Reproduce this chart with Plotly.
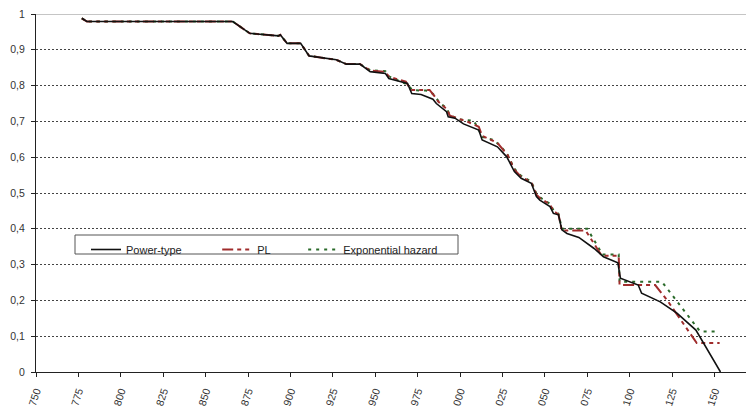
import plotly.graph_objects as go

# Power-type (black solid)
pt_x = [777, 780, 866, 876, 893, 894, 898, 906, 911, 927, 933, 941, 947, 956, 958, 969,
        971.5, 977, 984, 986, 992, 993, 997, 1002, 1011, 1013, 1022, 1027.5, 1032, 1036,
        1042, 1045, 1047, 1053, 1055, 1058, 1060, 1063, 1070, 1079, 1084.5, 1093, 1094.5,
        1105, 1107, 1118, 1128, 1139, 1153.5]
pt_y = [0.988, 0.979, 0.979, 0.946, 0.939, 0.942, 0.918, 0.918, 0.883, 0.872, 0.860, 0.860,
        0.839, 0.834, 0.820, 0.806, 0.778, 0.775, 0.762, 0.750, 0.727, 0.713, 0.709, 0.693,
        0.676, 0.648, 0.629, 0.601, 0.560, 0.541, 0.527, 0.490, 0.480, 0.462, 0.443, 0.439,
        0.397, 0.387, 0.376, 0.345, 0.322, 0.305, 0.262, 0.243, 0.220, 0.196, 0.164, 0.117, 0.0]

# PL (red dash-dot)
pl_x = [777, 780, 866, 876, 893, 894, 898, 906, 911, 927, 933, 941, 947, 956, 958, 968,
        971, 982, 985, 987, 992, 994, 1000, 1004, 1011, 1013, 1022, 1028, 1032, 1036, 1042,
        1045, 1047, 1053, 1055, 1058, 1060, 1074, 1083.5, 1093.5, 1094, 1115, 1122, 1139.5, 1153]
pl_y = [0.988, 0.979, 0.979, 0.946, 0.939, 0.942, 0.918, 0.918, 0.883, 0.872, 0.860, 0.860,
        0.842, 0.838, 0.825, 0.811, 0.788, 0.788, 0.770, 0.756, 0.735, 0.716, 0.706, 0.700,
        0.685, 0.660, 0.640, 0.606, 0.565, 0.545, 0.530, 0.495, 0.486, 0.468, 0.450, 0.440,
        0.395, 0.395, 0.325, 0.325, 0.243, 0.243, 0.201, 0.081, 0.081]

# Exponential hazard (green dotted)
ex_x = [777, 780, 866, 876, 893, 894, 898, 906, 911, 927, 933, 941, 947, 956, 958, 969,
        972, 980, 984, 988, 992, 994, 999, 1008, 1010, 1013, 1020, 1024, 1028, 1032, 1036,
        1042, 1045, 1047, 1053, 1055, 1058, 1060, 1075, 1084, 1093.5, 1094, 1119, 1141.5, 1150.5]
ex_y = [0.988, 0.979, 0.979, 0.946, 0.939, 0.942, 0.918, 0.918, 0.883, 0.872, 0.860, 0.860,
        0.843, 0.840, 0.826, 0.803, 0.787, 0.786, 0.777, 0.752, 0.737, 0.718, 0.706, 0.702,
        0.686, 0.657, 0.648, 0.630, 0.607, 0.568, 0.548, 0.532, 0.498, 0.488, 0.470, 0.452,
        0.442, 0.400, 0.400, 0.328, 0.328, 0.252, 0.252, 0.113, 0.113]

x_ticks = list(range(750, 1176, 25))
y_ticks = [0, 0.1, 0.2, 0.3, 0.4, 0.5, 0.6, 0.7, 0.8, 0.9, 1]
names = ["Power-type", "PL", "Exponential hazard"]

FONT = "Liberation Sans, Arial, sans-serif"
NB = "\u00a0"

# the page body has an 8px margin, so the figure is placed at (8, 8);
# the plot area runs a little past the right edge of the window (like the reference)
W, H = 751, 406
L, T, B = 28, 6, 42
PW, PH = W - L, H - T - B


def px(xp):  # page x -> paper x
    return (xp - 8 - L) / PW


def py(yp):  # page y -> paper y
    return (T + PH - (yp - 8)) / PH


fig = go.Figure()
fig.add_trace(go.Scatter(x=ex_x, y=ex_y, mode="lines", name=names[2] + NB * 3,
                         line=dict(color="#2a6a2a", width=2, dash="3px,5px")))
fig.add_trace(go.Scatter(x=pl_x, y=pl_y, mode="lines", name=names[1] + NB * 9,
                         line=dict(color="#a02c2c", width=2,
                                   dash="11px,4px,4px,4px,4px,4px")))
fig.add_trace(go.Scatter(x=pt_x, y=pt_y, mode="lines", name=names[0] + NB * 10,
                         line=dict(color="#111111", width=1.6)))

# top border line at 1
fig.add_shape(type="line", xref="paper", yref="y", x0=0, x1=1, y0=1, y1=1,
              line=dict(color="#8c8c8c", width=1))
# legend frame
fig.add_shape(type="rect", xref="paper", yref="paper",
              x0=px(75), x1=px(458), y0=py(254), y1=py(235),
              line=dict(color="#555555", width=1), fillcolor="white", layer="above")

fig.update_layout(
    width=W, height=H,
    margin=dict(l=L, r=0, t=T, b=B),
    paper_bgcolor="white", plot_bgcolor="white",
    separators=", ",
    font=dict(family=FONT, size=11, color="#333333"),
    showlegend=True,
    legend=dict(orientation="h", x=px(86), y=py(235),
                xanchor="left", yanchor="top",
                traceorder="reversed", bgcolor="rgba(0,0,0,0)", borderwidth=0,
                font=dict(size=11, color="#222222")),
    xaxis=dict(range=[750, 1176.2], tickvals=x_ticks, tickangle=-72, automargin=False,
               ticklabeloverflow="allow", ticklabelstandoff=4,
               showgrid=False, zeroline=False, showline=True, linecolor="#222222",
               linewidth=1, ticks="outside", ticklen=4, tickcolor="#222222",
               tickfont=dict(size=10.5, color="#333333")),
    yaxis=dict(range=[0, 1], tickvals=y_ticks, showgrid=True, gridcolor="#444444",
               griddash="2px,2px", gridwidth=1, zeroline=False, showline=True,
               automargin=False, ticklabeloverflow="allow", ticklabelstandoff=4,
               linecolor="#222222", linewidth=1, ticks="outside", ticklen=4,
               tickcolor="#222222", tickfont=dict(size=10.5, color="#333333")),
)

fig.write_html("out.html")
